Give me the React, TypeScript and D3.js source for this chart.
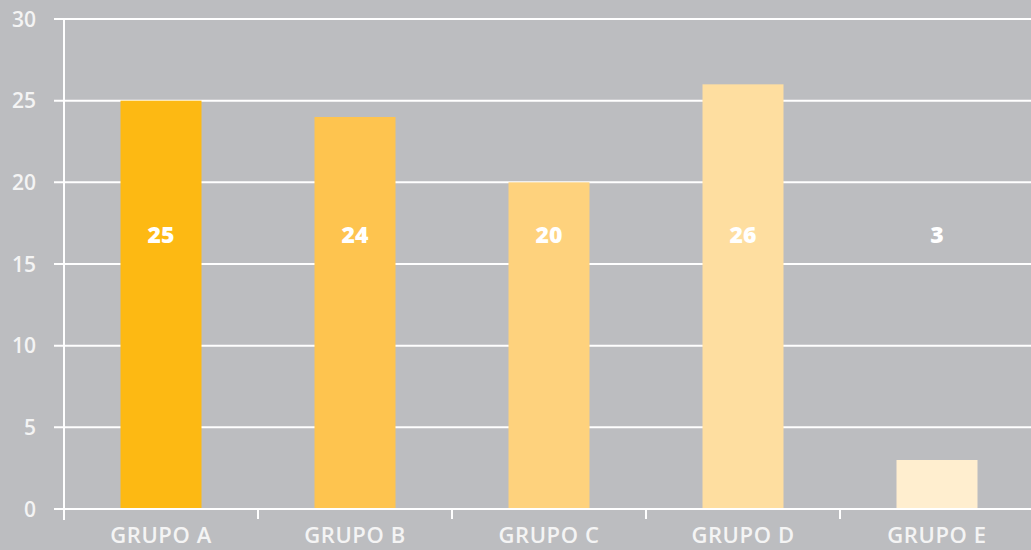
import React, { useEffect, useRef } from "react";
import * as d3 from "d3";

const categories = ["GRUPO A", "GRUPO B", "GRUPO C", "GRUPO D", "GRUPO E"];
const values = [25, 24, 20, 26, 3];
const barColors = ["#fdb913", "#fec44f", "#fed27d", "#fedea0", "#ffeecf"];
const yTicks = [0, 5, 10, 15, 20, 25, 30];

const W = 1031;
const H = 550;

const App = () => {
    const ref = useRef<SVGSVGElement>(null);

    useEffect(() => {
        const svg = d3.select(ref.current);
        svg.selectAll("*").remove();

        const font = "'Open Sans', 'Noto Sans', sans-serif";

        svg.append("rect").attr("width", W).attr("height", H).attr("fill", "#bcbdc0");

        const x = d3.scaleBand().domain(categories).range([64, 1034]);
        const y = d3.scaleLinear().domain([0, 30]).range([509, 19]);

        // horizontal gridlines + left ticks
        svg.append("g")
            .selectAll("line")
            .data(yTicks)
            .enter().append("line")
            .attr("x1", 54)
            .attr("x2", W)
            .attr("y1", d => y(d))
            .attr("y2", d => y(d))
            .attr("stroke", "#ffffff")
            .attr("stroke-width", 2);

        // y labels
        svg.append("g")
            .selectAll("text")
            .data(yTicks)
            .enter().append("text")
            .attr("x", 36)
            .attr("y", d => y(d))
            .attr("dy", "0.36em")
            .attr("text-anchor", "end")
            .attr("font-family", font)
            .attr("font-size", 21)
            .attr("font-weight", 600)
            .attr("fill", "#f4f4f4")
            .text(d => d);

        // bars
        const barW = 81;
        svg.append("g")
            .selectAll("rect")
            .data(values)
            .enter().append("rect")
            .attr("x", (d, i) => x(categories[i])! + x.bandwidth() / 2 - barW / 2)
            .attr("y", d => y(d))
            .attr("width", barW)
            .attr("height", d => y(0) - y(d))
            .attr("fill", (d, i) => barColors[i]);

        // y axis line
        svg.append("line")
            .attr("x1", 64).attr("x2", 64)
            .attr("y1", y(30) - 1).attr("y2", 520)
            .attr("stroke", "#ffffff").attr("stroke-width", 2);

        // x axis line
        svg.append("line")
            .attr("x1", 54).attr("x2", W)
            .attr("y1", y(0)).attr("y2", y(0))
            .attr("stroke", "#ffffff").attr("stroke-width", 2);

        // x tick marks at band boundaries
        svg.append("g")
            .selectAll("line")
            .data(categories.slice(1))
            .enter().append("line")
            .attr("x1", d => x(d)!)
            .attr("x2", d => x(d)!)
            .attr("y1", y(0))
            .attr("y2", y(0) + 10)
            .attr("stroke", "#ffffff")
            .attr("stroke-width", 2);

        // category labels
        svg.append("g")
            .selectAll("text")
            .data(categories)
            .enter().append("text")
            .attr("x", d => x(d)! + x.bandwidth() / 2)
            .attr("y", 543)
            .attr("text-anchor", "middle")
            .attr("font-family", font)
            .attr("font-size", 22)
            .attr("font-weight", 600)
            .attr("letter-spacing", 0.6)
            .attr("fill", "#f4f4f4")
            .text(d => d);

        // value labels
        svg.append("g")
            .selectAll("text")
            .data(values)
            .enter().append("text")
            .attr("x", (d, i) => x(categories[i])! + x.bandwidth() / 2)
            .attr("y", 235)
            .attr("dy", "0.36em")
            .attr("text-anchor", "middle")
            .attr("font-family", font)
            .attr("font-size", 23)
            .attr("font-weight", 800)
            .attr("fill", "#ffffff")
            .text(d => d);
    }, []);

    return <svg ref={ref} width={W} height={H} style={{ position: "absolute", left: 0, top: 0, display: "block" }} />;
};

export default App;
